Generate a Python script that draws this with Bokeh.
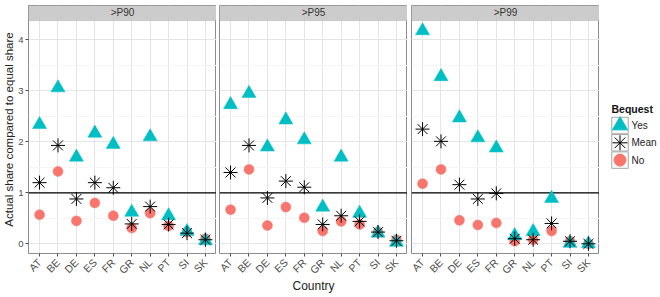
import numpy as np
from bokeh.plotting import figure
from bokeh.layouts import row
from bokeh.models import (Range1d, FixedTicker, Span, BoxAnnotation, Label,
                          ColumnDataSource)
from bokeh.core.properties import value
from bokeh.embed import file_html
from bokeh.resources import INLINE

countries = ["AT", "BE", "DE", "ES", "FR", "GR", "NL", "PT", "SI", "SK"]
panel_names = [">P90", ">P95", ">P99"]
y_ticks = [0, 1, 2, 3, 4]
legend_labels = ["Yes", "Mean", "No"]

yes_p90 = [2.34, 3.06, 1.70, 2.17, 1.95, 0.62, 2.10, 0.55, 0.24, 0.06]
mean_p90 = [1.20, 1.93, 0.88, 1.20, 1.10, 0.39, 0.73, 0.38, 0.21, 0.08]
no_p90 = [0.57, 1.42, 0.45, 0.80, 0.55, 0.31, 0.60, 0.35, 0.23, 0.10]

yes_p95 = [2.73, 2.95, 1.90, 2.43, 2.04, 0.72, 1.70, 0.60, 0.21, 0.03]
mean_p95 = [1.40, 1.93, 0.90, 1.23, 1.11, 0.38, 0.55, 0.44, 0.23, 0.06]
no_p95 = [0.67, 1.46, 0.36, 0.72, 0.51, 0.25, 0.44, 0.38, 0.23, 0.08]

yes_p99 = [4.18, 3.28, 2.47, 2.08, 1.88, 0.16, 0.24, 0.89, 0.01, 0.00]
mean_p99 = [2.25, 2.01, 1.16, 0.88, 0.99, 0.10, 0.08, 0.40, 0.05, 0.00]
no_p99 = [1.18, 1.46, 0.46, 0.37, 0.41, 0.05, 0.08, 0.25, 0.05, 0.00]

series = [(yes_p90, mean_p90, no_p90), (yes_p95, mean_p95, no_p95), (yes_p99, mean_p99, no_p99)]

FONT = "Liberation Sans"
TEAL = "#00BFC4"
RED = "#F8766D"
BORDER = "#8C8C8C"
TXT = "#4D4D4D"

figs = []
for i, (name, (yes, mean, no)) in enumerate(zip(panel_names, series)):
    p = figure(frame_width=188, frame_height=248,
               x_range=Range1d(-0.6, len(countries) - 0.4),
               y_range=Range1d(-0.19, 4.675),
               output_backend="svg", toolbar_location=None, title=None,
               min_border_top=5, min_border_bottom=44,
               min_border_left=(28 if i == 0 else (3 if i == 1 else 4)),
               min_border_right=0)
    p.background_fill_color = "white"
    p.border_fill_color = "white"
    p.outline_line_color = BORDER
    p.outline_line_width = 1

    xs = list(range(len(countries)))
    src = ColumnDataSource(dict(x=xs, yes=yes, mean=mean, no=no))
    p.add_layout(Span(location=1, dimension="width", line_color="black", line_width=1.2, level="underlay"))
    p.scatter("x", "no", source=src, marker="circle", size=10, fill_color=RED, line_color=RED, line_width=0.5)
    p.scatter("x", "yes", source=src, marker="triangle", size=14, fill_color=TEAL, line_color=TEAL, line_width=0.5)
    p.scatter("x", "mean", source=src, marker="asterisk", size=14, line_color="black", line_width=1)

    # grid
    p.ygrid.ticker = FixedTicker(ticks=y_ticks, minor_ticks=[0.5, 1.5, 2.5, 3.5])
    p.ygrid.grid_line_color = "#E5E5E5"
    p.ygrid.minor_grid_line_color = "#F5F5F5"
    p.xgrid.ticker = FixedTicker(ticks=xs)
    p.xgrid.grid_line_color = "#E5E5E5"

    # x axis
    p.xaxis.ticker = FixedTicker(ticks=xs)
    p.xaxis.major_label_overrides = {k: c for k, c in enumerate(countries)}
    p.xaxis.major_label_orientation = np.pi / 4
    p.xaxis.major_label_text_font = FONT
    p.xaxis.major_label_text_font_size = "10.5px"
    p.xaxis.major_label_text_color = TXT
    p.xaxis.major_label_standoff = 4
    p.xaxis.axis_line_color = None
    p.xaxis.major_tick_in = 0
    p.xaxis.major_tick_out = 3
    p.xaxis.major_tick_line_color = TXT
    p.xaxis.minor_tick_line_color = None
    if i == 1:
        p.xaxis.axis_label = "Country"
        p.xaxis.axis_label_text_font = FONT
        p.xaxis.axis_label_text_font_size = "12px"
        p.xaxis.axis_label_text_font_style = "normal"
        p.xaxis.axis_label_text_color = "#222222"
        p.xaxis.axis_label_standoff = -4

    # y axis
    p.yaxis.ticker = FixedTicker(ticks=y_ticks)
    p.yaxis.axis_line_color = None
    p.yaxis.minor_tick_line_color = None
    if i == 0:
        p.yaxis.major_label_text_font = FONT
        p.yaxis.major_label_text_font_size = "9.5px"
        p.yaxis.major_label_text_color = TXT
        p.yaxis.major_label_standoff = 2
        p.yaxis.major_tick_in = 0
        p.yaxis.major_tick_out = 3
        p.yaxis.major_tick_line_color = TXT
        p.yaxis.axis_label = "Actual share compared to equal share"
        p.yaxis.axis_label_text_font = FONT
        p.yaxis.axis_label_text_font_size = "11.5px"
        p.yaxis.axis_label_text_font_style = "normal"
        p.yaxis.axis_label_text_color = "#222222"
        p.yaxis.axis_label_standoff = 0
    else:
        p.yaxis.visible = False

    # strip
    p.add_layout(BoxAnnotation(bottom=4.38, fill_color="#CCCCCC", fill_alpha=1,
                               line_color=BORDER, line_width=1, level="overlay"))
    p.add_layout(Label(x=(len(countries) - 1) / 2, y=4.53, text=name, text_align="center",
                       text_baseline="middle", text_font=FONT, text_font_size="10px",
                       text_color="#333333", level="overlay"))
    figs.append(p)

# legend panel (pixel-like coordinates: x from its left edge, y down from top)
LW = 60
lg = figure(frame_width=LW, frame_height=297, x_range=Range1d(0, LW), y_range=Range1d(297, 0),
            output_backend="svg", toolbar_location=None, title=None,
            x_axis_location=None, y_axis_location=None,
            min_border=0, min_border_left=0, min_border_right=0,
            min_border_top=0, min_border_bottom=0, outline_line_color=None)
lg.grid.visible = False
key_y = [120 + 17.3 * k for k in range(len(legend_labels))]
key_x = [20.5] * len(legend_labels)
lsrc = ColumnDataSource(dict(x=key_x, y=key_y, lab=legend_labels, tx=[32] * len(legend_labels)))
lg.scatter("x", "y", marker="square", size=16.5, source=lsrc,
           fill_color="#FAFAFA", line_color="#A8A8A8", line_width=1)
lg.scatter(x=[key_x[0]], y=[key_y[0]], marker="triangle", size=15, fill_color=TEAL, line_color=TEAL)
lg.scatter(x=[key_x[1]], y=[key_y[1]], marker="asterisk", size=15, line_color="black", line_width=1)
lg.scatter(x=[key_x[2]], y=[key_y[2]], marker="circle", size=12, fill_color=RED, line_color=RED)
lg.text("tx", "y", text="lab", source=lsrc, text_font=value(FONT), text_font_size="10px",
        text_baseline="middle", text_align="left", text_color="#222222")
lg.text(x=[12], y=[103], text=["Bequest"], text_font=value(FONT), text_font_size="10.5px",
        text_font_style="bold", text_baseline="middle", text_align="left", text_color="#111111")

layout = row(*figs, lg, spacing=0)
open("out.html", "w").write(file_html(layout, INLINE))
